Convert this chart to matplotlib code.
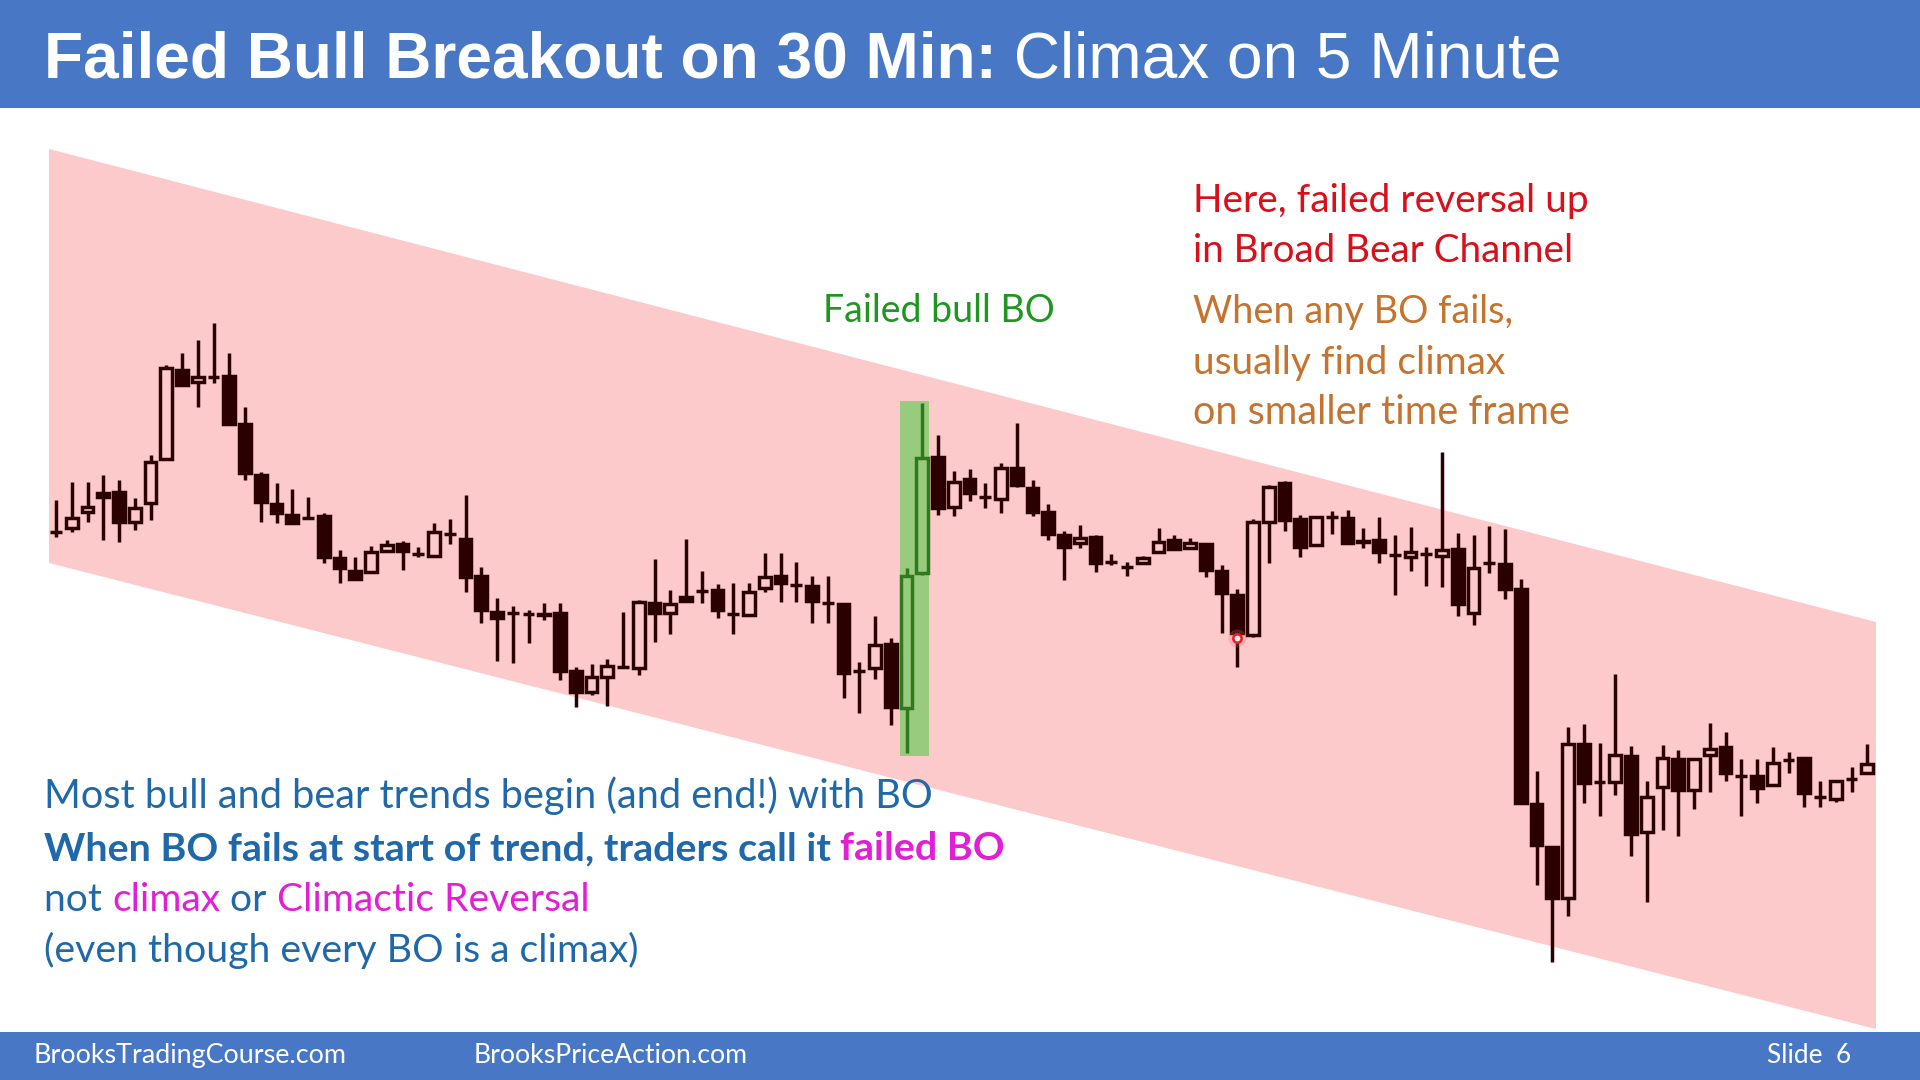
"""Slide: failed bull breakout on the 30 min chart, climax on the 5 minute."""
import matplotlib
matplotlib.use("Agg")
import matplotlib.pyplot as plt
from matplotlib.patches import Rectangle, Polygon

# ---- data: 5 min bars (price in points) -----------------------------------
opens = [468, 472, 488, 507, 508, 478, 497, 541, 630, 618,
         623, 624, 576, 525, 496, 485, 482, 484, 442, 429,
         428, 449, 456, 446, 444, 466, 461, 424, 388, 387,
         386, 386, 387, 329, 308, 323, 333, 332, 397, 387,
         403, 409, 410, 386, 385, 412, 424, 415, 414, 397,
         396, 329, 332, 356, 292, 427, 543, 493, 521, 503,
         501, 532, 512, 488, 465, 457, 463, 438, 433, 437,
         448, 460, 452, 456, 429, 405, 365, 478, 517, 481,
         455, 483, 482, 459, 460, 445, 443, 446, 444, 451,
         387, 437, 436, 411, 196, 153, 102, 256, 218, 218,
         244, 168, 213, 241, 210, 245, 253, 224, 224, 215,
         240, 242, 203, 201, 221, 227]
highs = [500, 518, 518, 525, 520, 502, 545, 635, 647, 660,
         677, 647, 593, 528, 517, 511, 503, 487, 450, 443,
         454, 460, 459, 453, 477, 481, 505, 433, 402, 394,
         390, 397, 397, 333, 336, 341, 388, 400, 441, 410,
         461, 429, 416, 417, 417, 447, 447, 438, 424, 424,
         396, 338, 384, 362, 432, 597, 565, 529, 531, 517,
         537, 577, 520, 496, 469, 475, 465, 446, 438, 444,
         472, 465, 462, 456, 435, 411, 481, 515, 519, 485,
         484, 489, 490, 472, 483, 465, 473, 453, 548, 467,
         465, 474, 471, 421, 229, 153, 273, 276, 257, 326,
         254, 219, 255, 250, 241, 277, 268, 241, 241, 253,
         248, 242, 219, 219, 233, 256]
lows = [463, 468, 478, 460, 458, 470, 480, 541, 615, 593,
        617, 576, 520, 478, 477, 476, 482, 437, 417, 420,
        427, 449, 430, 443, 444, 456, 408, 377, 339, 337,
        357, 380, 320, 293, 305, 294, 332, 325, 358, 366,
        398, 397, 382, 366, 384, 408, 398, 398, 377, 377,
        302, 287, 321, 275, 247, 425, 485, 484, 499, 492,
        487, 513, 484, 460, 420, 452, 428, 435, 424, 437,
        447, 450, 451, 423, 367, 333, 363, 437, 469, 443,
        454, 466, 457, 452, 437, 405, 429, 414, 413, 384,
        375, 427, 401, 197, 115, 38, 84, 197, 184, 205,
        144, 98, 170, 164, 191, 208, 219, 184, 197, 214,
        227, 193, 193, 198, 208, 226]
closes = [468, 482, 493, 503, 478, 492, 538, 632, 615, 623,
          623, 576, 527, 498, 487, 477, 482, 443, 432, 421,
          448, 455, 449, 446, 468, 466, 423, 390, 382, 387,
          386, 385, 329, 308, 323, 334, 333, 398, 387, 396,
          399, 409, 390, 386, 408, 423, 417, 415, 399, 397,
          327, 329, 355, 293, 424, 542, 492, 518, 507, 503,
          532, 515, 488, 466, 453, 462, 437, 438, 433, 442,
          458, 451, 457, 430, 407, 367, 478, 513, 480, 453,
          483, 483, 457, 458, 448, 445, 448, 446, 450, 396,
          432, 437, 411, 197, 155, 102, 256, 217, 218, 245,
          166, 203, 242, 210, 241, 251, 227, 224, 212, 237,
          240, 207, 203, 219, 221, 236]
BO_BARS = [55, 56]          # failed bull breakout (green)
MARK_BAR, MARK_PRICE = 76, 362

# ---- style ----------------------------------------------------------------
BLUE_BAR = "#4878c5"
PINK = "#fdcacc"
CANDLE = "#2b0000"
GREEN_BG = "#98cb7d"
GREEN_EDGE = "#2f7a1c"
TXT_BLUE = "#1f68aa"
MAGENTA = "#e21fd6"
RED = "#d8101c"
ORANGE = "#c4742f"
GREEN_T = "#1f961f"

W, H = 1920, 1080
X0, STEP = 56, 15.75        # pixel of first bar, pixels per bar
BW = 0.76
LW = 2.5

fig = plt.figure(figsize=(19.2, 10.8), dpi=100)
fig.patch.set_facecolor("white")
R = fig.canvas.get_renderer()


def fx(x):
    return x / W


def fy(y):
    return 1 - y / H


ax = fig.add_axes([0, 0, 1, 1])
ax.axis("off")

# broad bear channel
ax.add_patch(Polygon([(fx(49), fy(149)), (fx(1876), fy(622)),
                      (fx(1876), fy(1029)), (fx(49), fy(563))],
                     closed=True, transform=fig.transFigure,
                     fc=PINK, ec="none", zorder=0))

# green highlight behind breakout bars
bo_lo = min(lows[b - 1] for b in BO_BARS)
bo_hi = max(highs[b - 1] for b in BO_BARS)
ax.add_patch(Rectangle((BO_BARS[0] - 0.41, bo_lo - 3),
                       BO_BARS[-1] - BO_BARS[0] + 0.84, bo_hi - bo_lo + 5,
                       fc=GREEN_BG, ec="none", zorder=1))

for i, (o, h, l, c) in enumerate(zip(opens, highs, lows, closes), start=1):
    col = GREEN_EDGE if i in BO_BARS else CANDLE
    top, bot = max(o, c), min(o, c)
    if h > top:
        ax.vlines(i, top, h, color=col, lw=LW, zorder=2)
    if bot > l:
        ax.vlines(i, l, bot, color=col, lw=LW, zorder=2)
    face = CANDLE if c < o else "none"
    ax.add_patch(Rectangle((i - BW / 2, bot), BW, top - bot,
                           fc=face, ec=col, lw=LW, zorder=3))

ax.plot(MARK_BAR, MARK_PRICE, "o", ms=13, color="#ff6060", alpha=0.25,
        mec="none", zorder=4)
ax.plot(MARK_BAR, MARK_PRICE, "o", ms=6, mfc="#ffe6e6", mec="#e3202c",
        mew=1.8, zorder=5)

ax.set_xlim(1 - X0 / STEP, 1 + (W - X0) / STEP)
ax.set_ylim(-80, 1000)

# ---- header / footer bands -------------------------------------------------
fig.patches.append(Rectangle((0, fy(108)), 1, 108 / H, transform=fig.transFigure,
                             fc=BLUE_BAR, ec="none", zorder=0))
fig.patches.append(Rectangle((0, 0), 1, 48 / H, transform=fig.transFigure,
                             fc=BLUE_BAR, ec="none", zorder=0))


def tw(s, size, wt, fam):
    t = fig.text(0, 0, s, fontsize=size, fontweight=wt, family=fam)
    w = t.get_window_extent(renderer=R).width
    t.remove()
    return w


def put_line(pieces, x0, base, x1, fam="Lato"):
    ref = 40
    offs, off = [], 0.0
    for s, col, wt in pieces:
        offs.append(off)
        off += tw(s + "|", ref, wt, fam) - tw("|", ref, wt, fam)
    total = offs[-1] + tw(pieces[-1][0], ref, pieces[-1][2], fam)
    k = (x1 - x0) / total
    for (s, col, wt), o in zip(pieces, offs):
        fig.text(fx(x0 + o * k), fy(base), s, fontsize=ref * k, color=col,
                 fontweight=wt, family=fam, ha="left", va="baseline", zorder=6)


put_line([("Failed Bull Breakout on 30 Min:", "white", "bold"),
          (" Climax on 5 Minute", "white", "normal")], 44, 77, 1561,
         fam="Liberation Sans")

put_line([("Failed bull BO", GREEN_T, "normal")], 823, 322, 1055)

put_line([("Here, failed reversal up", RED, "normal")], 1193, 212, 1588)
put_line([("in Broad Bear Channel", RED, "normal")], 1193, 262, 1573)
put_line([("When any BO fails,", ORANGE, "normal")], 1193, 323, 1513)
put_line([("usually find climax", ORANGE, "normal")], 1193, 374, 1505)
put_line([("on smaller time frame", ORANGE, "normal")], 1193, 424, 1570)

put_line([("Most bull and bear trends begin (and end!) with BO", TXT_BLUE, "normal")],
         44, 808, 933)
put_line([("When BO fails at start of trend, traders call it ", TXT_BLUE, "bold"),
          ("failed BO", MAGENTA, "bold")], 44, 860, 1004)
put_line([("not ", TXT_BLUE, "normal"), ("climax", MAGENTA, "normal"),
          (" or ", TXT_BLUE, "normal"), ("Climactic Reversal", MAGENTA, "normal")],
         44, 911, 589)
put_line([("(even though every BO is a climax)", TXT_BLUE, "normal")], 44, 962, 638)

put_line([("BrooksTradingCourse.com", "white", "normal")], 34, 1063, 347)
put_line([("BrooksPriceAction.com", "white", "normal")], 474, 1063, 748)
put_line([("Slide  6", "white", "normal")], 1767, 1063, 1851)

fig.savefig("out.png", dpi=100)
